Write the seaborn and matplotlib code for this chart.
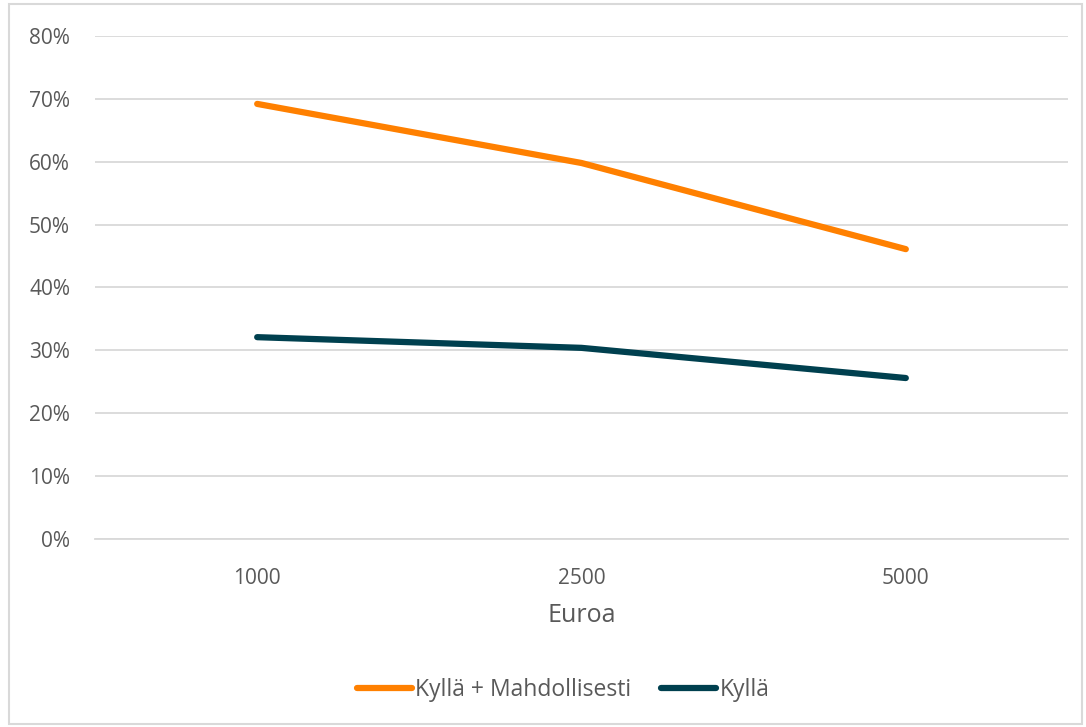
import matplotlib
matplotlib.use("Agg")
import matplotlib.pyplot as plt
import seaborn as sns
import pandas as pd
from matplotlib.patches import Rectangle

categories = ["1000", "2500", "5000"]
series_names = ["Kyllä + Mahdollisesti", "Kyllä"]
kylla_mahd = [0.692, 0.598, 0.461]
kylla = [0.321, 0.304, 0.256]
colors = ["#FF8000", "#00404F"]
yticks = [0, 0.1, 0.2, 0.3, 0.4, 0.5, 0.6, 0.7, 0.8]

df = pd.DataFrame({
    "Euroa": categories * 2,
    "value": kylla_mahd + kylla,
    "series": [series_names[0]] * 3 + [series_names[1]] * 3,
})

sns.set_theme(style="white")
plt.rcParams['font.family'] = ['Open Sans', 'DejaVu Sans']

fig = plt.figure(figsize=(10.86, 7.27), dpi=100)
ax = fig.add_axes([0.0875, 0.2586, 0.8959, 0.6919])

sns.lineplot(data=df, x="Euroa", y="value", hue="series", palette=colors,
             linewidth=4.5, ax=ax, sort=False, legend=True)
for ln in ax.get_lines():
    ln.set_solid_capstyle("round")

ax.set_xlim(-0.5, 2.5)
ax.set_ylim(0, 0.8)
ax.set_yticks(yticks)
ax.set_yticklabels([f"{int(round(t*100))}%" for t in yticks])
ax.yaxis.grid(True, color="#D9D9D9", linewidth=1.3)
ax.set_axisbelow(True)
for s in ax.spines.values():
    s.set_visible(False)
ax.spines["bottom"].set_visible(True)
ax.spines["bottom"].set_color("#D9D9D9")
ax.spines["bottom"].set_linewidth(1.3)
ax.tick_params(axis="both", length=0, labelsize=15, labelcolor="#595959")
ax.tick_params(axis="y", pad=18)
ax.tick_params(axis="x", pad=21)
ax.set_xlabel("Euroa", fontsize=18, color="#595959", labelpad=10)
ax.set_ylabel("")

handles, labels = ax.get_legend_handles_labels()
for h in handles:
    h.set_linewidth(4.5)
    h.set_solid_capstyle("round")
ax.legend(handles, labels, loc="center", bbox_to_anchor=(0.481, -0.30),
          ncol=2, frameon=False, fontsize=16.5, labelcolor="#595959",
          handlelength=2.4, handletextpad=0.15, columnspacing=1.3)

fig.patches.append(Rectangle((0.008, 0.004), 0.988, 0.99, transform=fig.transFigure,
                             fill=False, edgecolor="#D9D9D9", linewidth=1.5))

fig.savefig("out.png", dpi=100)
